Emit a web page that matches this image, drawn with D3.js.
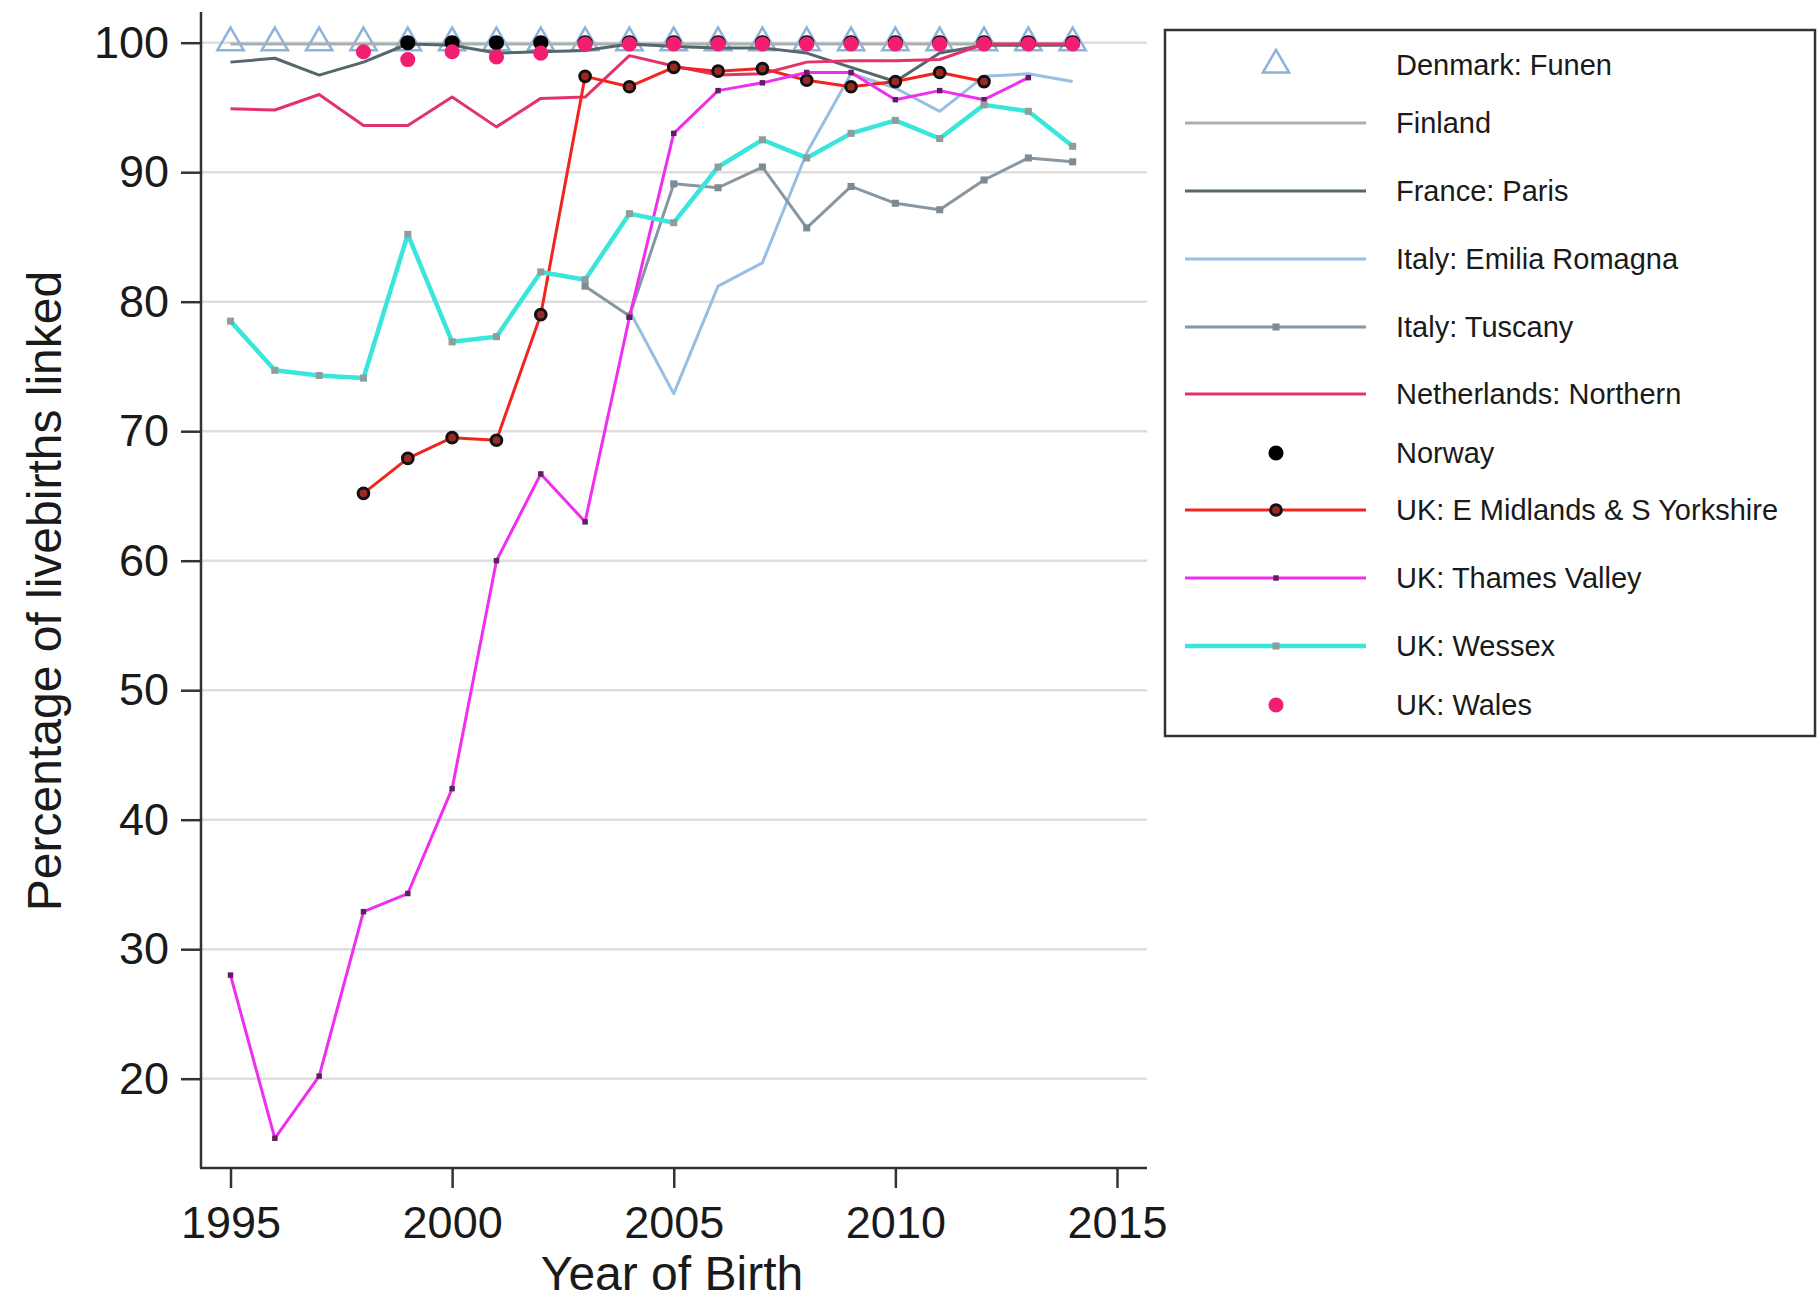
<!DOCTYPE html>
<html>
<head>
<meta charset="utf-8">
<script src="https://cdn.jsdelivr.net/npm/d3@7"></script>
<style>
  html, body { margin: 0; padding: 0; background: #fff; }
  svg { display: block; }
  text { font-family: "Liberation Sans", Arial, Helvetica, sans-serif; fill: #1a1a1a; }
</style>
</head>
<body>
<svg id="chart" width="1818" height="1307"></svg>
<script>
// Year of birth
const years = [1995, 1996, 1997, 1998, 1999, 2000, 2001, 2002, 2003, 2004,
               2005, 2006, 2007, 2008, 2009, 2010, 2011, 2012, 2013, 2014];

// Percentage of livebirths linked, one array per registry (null = no data)
const denmarkFunen = [100, 100, 100, 100, 100, 100, 100, 100, 100, 100,
                      100, 100, 100, 100, 100, 100, 100, 100, 100, 100];
const finland      = [99.9, 99.9, 99.9, 99.9, 99.9, 99.9, 99.9, 99.9, 99.9, 99.9,
                      99.9, 99.9, 99.9, 99.9, 99.9, 99.9, 99.9, 99.9, 99.9, 99.9];
const franceParis  = [98.5, 98.8, 97.5, 98.5, 99.9, 99.8, 99.2, 99.3, 99.4, 99.9,
                      99.7, 99.6, 99.6, 99.2, 98.1, 97.0, 99.2, 99.8, 99.8, 99.8];
const italyEmiliaRomagna = [null, null, null, null, null, null, null, null, null, 79.3,
                      72.9, 81.2, 83.0, 91.5, 97.6, 96.5, 94.7, 97.4, 97.6, 97.0];
const italyTuscany = [null, null, null, null, null, null, null, null, 81.2, 78.9,
                      89.1, 88.8, 90.4, 85.7, 88.9, 87.6, 87.1, 89.4, 91.1, 90.8];
const netherlandsNorthern = [94.9, 94.8, 96.0, 93.6, 93.6, 95.8, 93.5, 95.7, 95.8, 99.0,
                      98.2, 97.5, 97.6, 98.5, 98.6, 98.6, 98.7, 99.9, 99.9, 99.9];
const norway       = [null, null, null, null, 100, 100, 100, 100, 100, 100,
                      100, 100, 100, 100, 100, 100, 100, 100, 100, 100];
const ukEMidlandsSYorkshire = [null, null, null, 65.2, 67.9, 69.5, 69.3, 79.0, 97.4, 96.6,
                      98.1, 97.8, 98.0, 97.1, 96.6, 97.0, 97.7, 97.0, null, null];
const ukThamesValley = [28.0, 15.4, 20.2, 32.9, 34.3, 42.4, 60.0, 66.7, 63.0, 78.8,
                      93.0, 96.3, 96.9, 97.7, 97.7, 95.6, 96.3, 95.6, 97.3, null];
const ukWessex     = [78.5, 74.7, 74.3, 74.1, 85.2, 76.9, 77.3, 82.3, 81.7, 86.8,
                      86.1, 90.4, 92.5, 91.1, 93.0, 94.0, 92.6, 95.2, 94.7, 92.0];
const ukWales      = [null, null, null, 99.3, 98.7, 99.3, 98.9, 99.2, 99.9, 99.9,
                      99.9, 99.9, 99.9, 99.9, 99.9, 99.9, 99.9, 99.9, 99.9, 99.9];

// Axis ticks
const xTicks = [1995, 2000, 2005, 2010, 2015];
const yTicks = [20, 30, 40, 50, 60, 70, 80, 90, 100];

const svg = d3.select("#chart");

const x = d3.scaleLinear().domain([1995, 2015]).range([230.5, 1117]);
const y = d3.scaleLinear().domain([20, 100]).range([1078.7, 42.7]);

const axisLeftX = 201, axisBottomY = 1168, plotRight = 1147, plotTop = 12;

// Gridlines
svg.append("g").selectAll("line").data(yTicks).join("line")
  .attr("x1", axisLeftX).attr("x2", plotRight)
  .attr("y1", d => y(d)).attr("y2", d => y(d))
  .attr("stroke", "#dedede").attr("stroke-width", 2.5);

// Axes
const yAxis = d3.axisLeft(y).tickValues(yTicks).tickSize(20).tickPadding(12);
const gy = svg.append("g").attr("transform", `translate(${axisLeftX},0)`).call(yAxis);
gy.select(".domain").remove();
gy.append("line").attr("x1", 0).attr("x2", 0).attr("y1", plotTop).attr("y2", axisBottomY)
  .attr("stroke", "#333").attr("stroke-width", 2.5);

const xAxis = d3.axisBottom(x).tickValues(xTicks).tickFormat(d3.format("d")).tickSize(20).tickPadding(18);
const gx = svg.append("g").attr("transform", `translate(0,${axisBottomY})`).call(xAxis);
gx.select(".domain").remove();
gx.append("line").attr("x1", axisLeftX - 1).attr("x2", plotRight).attr("y1", 0).attr("y2", 0)
  .attr("stroke", "#333").attr("stroke-width", 2.5);

[gx, gy].forEach(g => {
  g.selectAll(".tick line").attr("stroke", "#333").attr("stroke-width", 2.5);
  g.selectAll(".tick text").attr("font-size", 45).attr("fill", "#1a1a1a")
    .attr("font-family", "Liberation Sans, Arial, sans-serif");
});

// Axis titles
svg.append("text").attr("x", 672).attr("y", 1290).attr("text-anchor", "middle")
  .attr("font-size", 48).text("Year of Birth");
svg.append("text").attr("transform", "translate(61,591) rotate(-90)").attr("text-anchor", "middle")
  .attr("font-size", 48).text("Percentage of livebirths linked");

// Series definitions
const series = [
  { name: "Denmark: Funen", values: denmarkFunen, line: null,
    marker: { type: d3.symbolTriangle, size: 300, fill: "none", stroke: "#8db3da", sw: 2.5 } },
  { name: "Finland", values: finland, line: { color: "#a7b1b1", width: 3 }, marker: null },
  { name: "France: Paris", values: franceParis, line: { color: "#56676b", width: 3 }, marker: null },
  { name: "Italy: Emilia Romagna", values: italyEmiliaRomagna, line: { color: "#98bee3", width: 3 }, marker: null },
  { name: "Italy: Tuscany", values: italyTuscany, line: { color: "#8796a0", width: 3 },
    marker: { type: d3.symbolSquare, size: 50, fill: "#7d8b95", stroke: "none", sw: 0 } },
  { name: "Netherlands: Northern", values: netherlandsNorthern, line: { color: "#e3336d", width: 3 }, marker: null },
  { name: "Norway", values: norway, line: null,
    marker: { type: d3.symbolCircle, size: 180, fill: "#000", stroke: "none", sw: 0 } },
  { name: "UK: E Midlands & S Yorkshire", values: ukEMidlandsSYorkshire, line: { color: "#f0261e", width: 3 },
    marker: { type: d3.symbolCircle, size: 90, fill: "#9a2a26", stroke: "#111", sw: 3 } },
  { name: "UK: Thames Valley", values: ukThamesValley, line: { color: "#f02ef0", width: 3 },
    marker: { type: d3.symbolSquare, size: 30, fill: "#5e2160", stroke: "none", sw: 0 } },
  { name: "UK: Wessex", values: ukWessex, line: { color: "#3ae6dc", width: 4.5 },
    marker: { type: d3.symbolSquare, size: 50, fill: "#8e9e9e", stroke: "none", sw: 0 } },
  { name: "UK: Wales", values: ukWales, line: null,
    marker: { type: d3.symbolCircle, size: 180, fill: "#f21e72", stroke: "none", sw: 0 } }
];

const lineGen = d3.line()
  .defined(d => d.v !== null)
  .x(d => x(d.year)).y(d => y(d.v));

const plot = svg.append("g");
series.forEach(s => {
  const pts = years.map((yr, i) => ({ year: yr, v: s.values[i] }));
  const g = plot.append("g");
  if (s.line) {
    g.append("path").datum(pts).attr("d", lineGen)
      .attr("fill", "none").attr("stroke", s.line.color)
      .attr("stroke-width", s.line.width).attr("stroke-linejoin", "round");
  }
  if (s.marker) {
    const sym = d3.symbol().type(s.marker.type).size(s.marker.size);
    g.selectAll("path.m").data(pts.filter(d => d.v !== null)).join("path")
      .attr("class", "m")
      .attr("transform", d => `translate(${x(d.year)},${y(d.v)})`)
      .attr("d", sym)
      .attr("fill", s.marker.fill)
      .attr("stroke", s.marker.stroke)
      .attr("stroke-width", s.marker.sw);
  }
});

// Legend
const legend = svg.append("g");
legend.append("rect").attr("x", 1165).attr("y", 30).attr("width", 650).attr("height", 706)
  .attr("fill", "#fff").attr("stroke", "#333").attr("stroke-width", 2.5);
const legendY = [65, 123, 191, 259, 327, 394, 453, 510, 578, 646, 705];
series.forEach((s, i) => {
  const ly = legendY[i];
  if (s.line) {
    legend.append("line").attr("x1", 1185).attr("x2", 1366).attr("y1", ly).attr("y2", ly)
      .attr("stroke", s.line.color).attr("stroke-width", s.line.width);
  }
  if (s.marker) {
    legend.append("path")
      .attr("transform", `translate(1276,${ly})`)
      .attr("d", d3.symbol().type(s.marker.type).size(s.marker.size))
      .attr("fill", s.marker.fill).attr("stroke", s.marker.stroke).attr("stroke-width", s.marker.sw);
  }
  legend.append("text").attr("x", 1396).attr("y", ly).attr("dy", "0.35em")
    .attr("font-size", 29).text(s.name);
});
</script>
</body>
</html>
